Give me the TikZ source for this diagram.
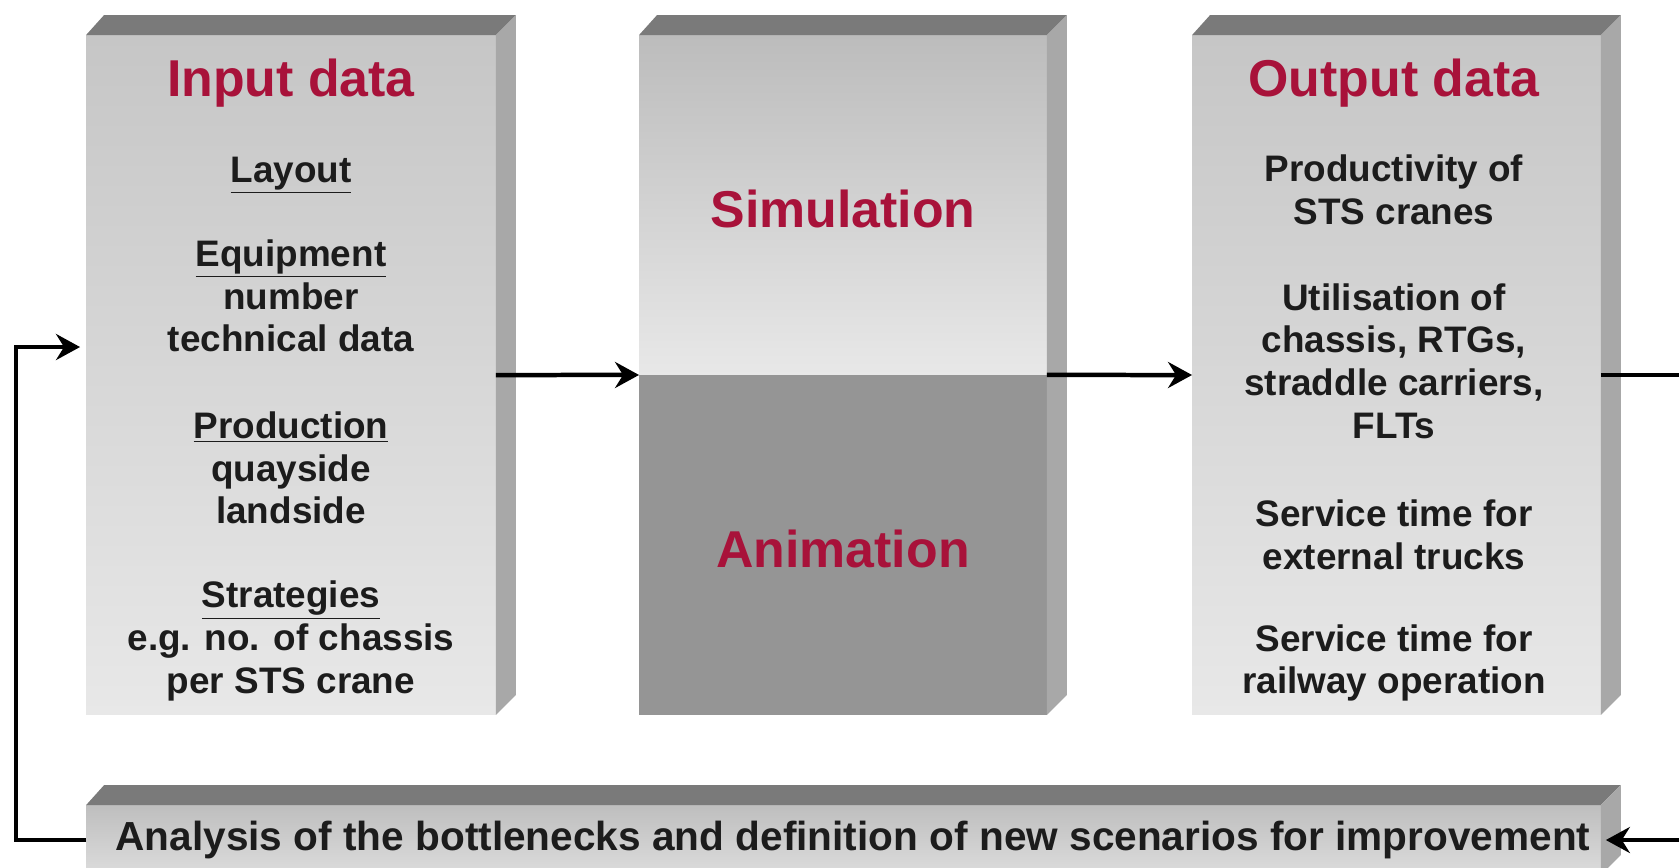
\documentclass[tikz,border=0pt]{standalone}
\usepackage{fontspec}
\setmainfont{Liberation Sans}
\usetikzlibrary{arrows.meta,calc,shadings}
\definecolor{titlered}{RGB}{168,18,58}
\definecolor{bodytext}{RGB}{28,28,28}
\definecolor{roofgray}{HTML}{7A7A7A}
\definecolor{sidegray}{HTML}{A8A8A8}
\definecolor{facetop}{HTML}{C6C6C6}
\definecolor{facebot}{HTML}{E8E8E8}
\definecolor{animgray}{HTML}{959595}
\tikzset{
  slab/.style={inner sep=0pt,outer sep=0pt,top color=facetop,bottom color=facebot},
  roof/.style={fill=roofgray},
  flank/.style={fill=sidegray},
  heading/.style={font=\bfseries\fontsize{29.5}{32}\selectfont,text=titlered},
  item/.style={font=\bfseries\fontsize{21}{24.3}\selectfont,text=bodytext,align=center},
  flow/.style={line width=0.09cm,-{Stealth[length=0.48cm,width=0.52cm,inset=0.16cm]}}
}
\begin{document}
\begin{tikzpicture}[x=0.02cm,y=-0.02cm]
\useasboundingbox (0,0) rectangle (1679,867);
\clip (0,0) rectangle (1679,867);
\fill[white] (0,0) rectangle (1679,867);
% front faces
\node [slab,minimum width=8.2cm,minimum height=13.6cm](input) at (291,375){};
\node [slab,minimum width=8.16cm,minimum height=6.8cm,top color=facetop!95!black](sim) at (843,205){};
\node [slab,minimum width=8.16cm,minimum height=6.8cm,fill=animgray,top color=animgray,bottom color=animgray](anim) at (843,545){};
\node [slab,minimum width=8.18cm,minimum height=13.6cm](output) at (1396.5,375){};
\node [slab,minimum width=30.3cm,minimum height=1.4cm,top color=facetop!96!black,bottom color=facebot!95!black](bar) at (843.5,840){};
% roof and flank of each block
\foreach \t/\b in {input/input,sim/anim,output/output,bar/bar}{
  \fill[roof] (\t.north west) -- ++(18,-20) -- ([shift={(20,-20)}]\t.north east) -- (\t.north east) -- cycle;
  \fill[flank] (\t.north east) -- ++(20,-20) -- ([shift={(20,-20)}]\b.south east) -- (\b.south east) -- cycle;
}
% texts
\node [heading](intitle) at (291,83) {Input data};
\node [item](layout) at (291,175) {\underline{Layout}};
\node [item](equip) at (291,296) {\underline{Equipment}\\number\\technical data};
\node [item](prod) at (291,468) {\underline{Production}\\quayside\\landside};
\node [item](strat) at (291,641) {\underline{Strategies}\\e.g. no. of chassis\\per STS crane};
\node [heading](simtext) at (843,209) {Simulation};
\node [heading](animtext) at (843,549) {Animation};
\node [heading](outtitle) at (1394,83) {Output data};
\node [item](prodty) at (1394,189.5) {Productivity of\\STS cranes};
\node [item](util) at (1394,361) {Utilisation of\\chassis, RTGs,\\straddle carriers,\\FLTs};
\node [item](truck) at (1394,534.5) {Service time for\\external trucks};
\node [item](rail) at (1394,663) {Service time for\\railway operation};
\node [item,font=\bfseries\fontsize{23.1}{26}\selectfont](bartext) at (853,840) {Analysis of the bottlenecks and definition of new scenarios for improvement};
% connectors
\coordinate (fbl) at (16,840);
\coordinate (fbr) at (1700,375);
\draw [flow](input.east) -- (sim.south west);
\draw [flow](sim.south east) -- (output.west);
\draw [flow](output.east) -- (fbr) |- ($(bar.east)+(5,0)$);
\draw [flow](bar.west) -- (fbl) |- ($(input.west)+(-6,-28)$);
\end{tikzpicture}
\end{document}
